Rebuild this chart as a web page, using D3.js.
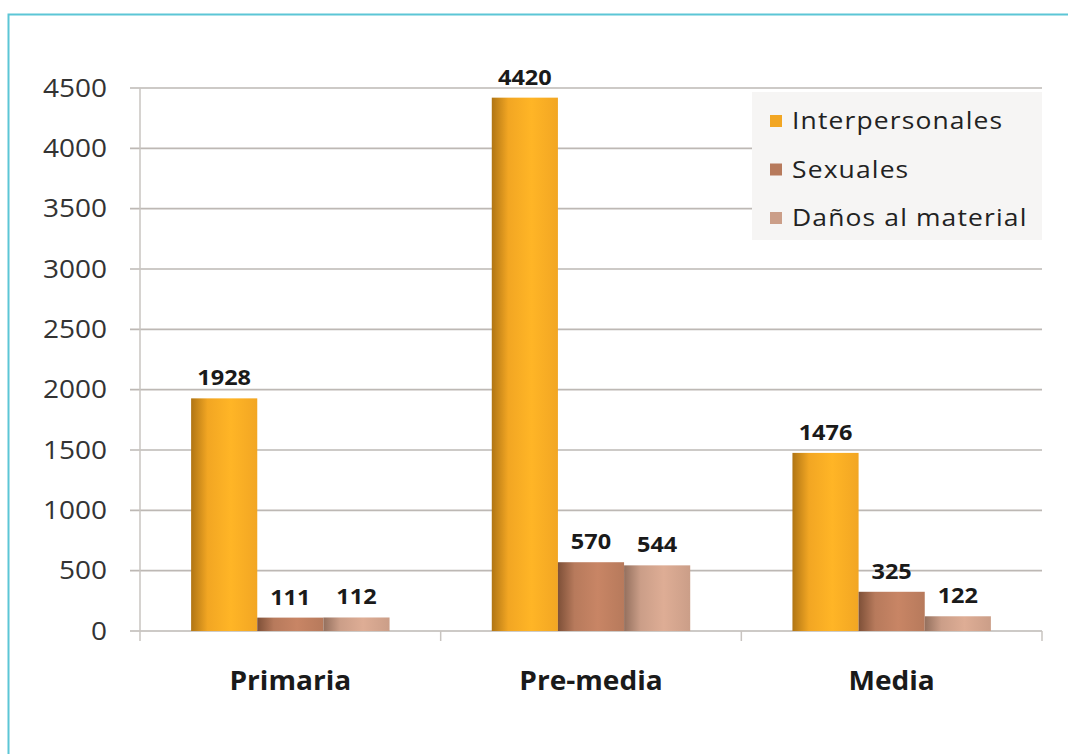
<!DOCTYPE html>
<html><head><meta charset="utf-8">
<script src="https://cdn.jsdelivr.net/npm/d3@7"></script>
<style>body{margin:0;background:#fff}svg{display:block}</style>
</head><body>
<svg id="c" width="1068" height="754"></svg>
<script>
const categories = ["Primaria", "Pre-media", "Media"];
const seriesNames = ["Interpersonales", "Sexuales", "Daños al material"];
const interpersonales = [1928, 4420, 1476];
const sexuales = [111, 570, 325];
const danos = [112, 544, 122];
const yTicks = [0, 500, 1000, 1500, 2000, 2500, 3000, 3500, 4000, 4500];
const colors = ["#F2A623", "#B77A5C", "#CB9E88"];
const darkColors = ["#B07514", "#7E5038", "#94705E"];

(function () {
const series = [interpersonales, sexuales, danos];
const svg = d3.select("#c");
const defs = svg.append("defs");
colors.forEach((c, i) => {
  const g = defs.append("linearGradient").attr("id", "g" + i).attr("x1", 0).attr("x2", 1).attr("y1", 0).attr("y2", 0);
  g.append("stop").attr("offset", 0).attr("stop-color", darkColors[i]);
  g.append("stop").attr("offset", 0.25).attr("stop-color", c);
  g.append("stop").attr("offset", 0.6).attr("stop-color", d3.color(c).brighter(0.25));
  g.append("stop").attr("offset", 1).attr("stop-color", c);
});

// frame
svg.append("rect").attr("x", 8.5).attr("y", 14.5).attr("width", 1080).attr("height", 760)
  .attr("fill", "none").attr("stroke", "#5CC6D6").attr("stroke-width", 2);

const pl = 140, pr = 1042, pt = 88, pb = 631;
const x = d3.scaleBand().domain(categories).range([pl, pr]);
const x1 = d3.scaleBand().domain(d3.range(3)).range([x.bandwidth() * 0.17, x.bandwidth() * 0.83]);
const y = d3.scaleLinear().domain([0, 4500]).range([pb, pt]);

const stretch = (sel, ax, s) => sel.attr("transform", d => {
  const cx = typeof ax === "function" ? ax(d) : ax;
  return `translate(${cx},0) scale(${s},1) translate(${-cx},0)`;
});

// gridlines
svg.append("g").selectAll("line").data(yTicks).join("line")
  .attr("x1", pl - 10).attr("x2", pr).attr("y1", d => y(d)).attr("y2", d => y(d))
  .attr("stroke", "#bdb8b4").attr("stroke-width", 1.6);

// y axis line
svg.append("line").attr("x1", pl).attr("x2", pl).attr("y1", pt).attr("y2", pb)
  .attr("stroke", "#c8c4c0").attr("stroke-width", 1.5);
// x tick marks
svg.append("g").selectAll("line").data([pl, pl + x.step(), pl + 2 * x.step(), pr]).join("line")
  .attr("x1", d => d).attr("x2", d => d).attr("y1", pb).attr("y2", pb + 10)
  .attr("stroke", "#c8c4c0").attr("stroke-width", 1.5);

// y labels
stretch(svg.append("g").selectAll("text").data(yTicks).join("text")
  .attr("x", 107).attr("y", d => y(d)).attr("dy", "0.35em").attr("text-anchor", "end")
  .attr("font-family", "Open Sans, sans-serif").attr("font-size", 25).attr("fill", "#333")
  .text(d => d), 107, 1.12);

// bars
const groups = svg.append("g").selectAll("g").data(categories).join("g")
  .attr("transform", d => `translate(${x(d)},0)`);
groups.each(function (cat, ci) {
  const g = d3.select(this);
  series.forEach((s, si) => {
    g.append("rect").attr("x", x1(si)).attr("width", x1.bandwidth())
      .attr("y", y(s[ci])).attr("height", pb - y(s[ci]))
      .attr("fill", `url(#g${si})`);
    const cx = x1(si) + x1.bandwidth() / 2;
    g.append("text").attr("x", cx).attr("y", y(s[ci]) - 13)
      .attr("text-anchor", "middle").attr("font-family", "Open Sans, sans-serif")
      .attr("font-weight", "bold").attr("font-size", 21).attr("fill", "#1a1a1a")
      .attr("transform", `translate(${cx},0) scale(1.12,1) translate(${-cx},0)`)
      .text(s[ci]);
  });
});

// category labels
stretch(svg.append("g").selectAll("text").data(categories).join("text")
  .attr("x", d => x(d) + x.bandwidth() / 2).attr("y", 690).attr("text-anchor", "middle")
  .attr("font-family", "Open Sans, sans-serif").attr("font-weight", "bold").attr("font-size", 26)
  .attr("fill", "#1a1a1a").text(d => d), d => x(d) + x.bandwidth() / 2, 1.08);

// legend
const lg = svg.append("g");
lg.append("rect").attr("x", 752).attr("y", 92).attr("width", 290).attr("height", 148).attr("fill", "#f6f5f4");
seriesNames.forEach((n, i) => {
  const yy = 121 + i * 48.5;
  lg.append("rect").attr("x", 770).attr("y", yy - 6).attr("width", 12).attr("height", 12).attr("fill", colors[i]);
  lg.append("text").attr("x", 792).attr("y", yy).attr("dy", "0.35em")
    .attr("font-family", "Open Sans, sans-serif").attr("font-size", 23).attr("fill", "#222")
    .attr("letter-spacing", 1)
    .attr("transform", "translate(792,0) scale(1.15,1) translate(-792,0)")
    .text(n);
});
})();
</script>
</body></html>
